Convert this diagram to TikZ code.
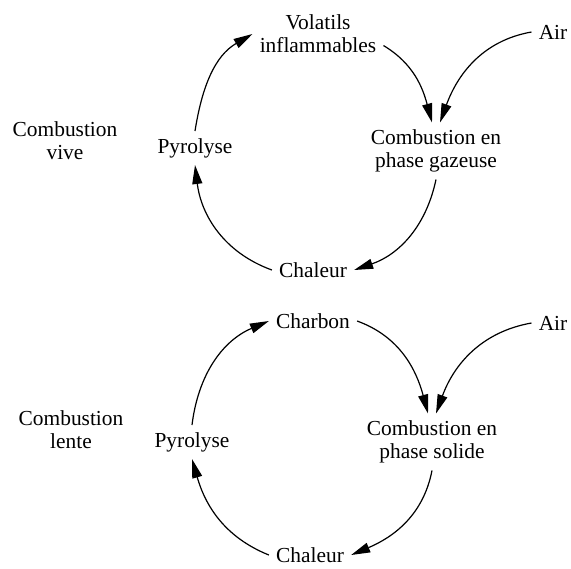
\documentclass[tikz,border=0pt]{standalone}
\usepackage{fontspec}
\setmainfont{Liberation Serif}
\usetikzlibrary{arrows.meta}

\begin{document}
\begin{tikzpicture}[x=0.5pt,y=0.5pt,line width=0.6pt,
  font=\fontsize{10.7}{11.5}\selectfont,
  every node/.style={align=center},
  cyc/.style={-{Triangle[length=9.5pt,width=5pt]}}]

\useasboundingbox (0,0) rectangle (571,-568);

% combustion vive
\node (vive)  at (65,-141)  {Combustion\\vive};
\node (pyrA)  at (195,-148) {Pyrolyse};
\node (volA)  at (318,-34)  {Volatils\\inflammables};
\node (airA)  at (553,-32)  {Air};
\node (combA) at (436,-151) {Combustion en\\phase gazeuse};
\node (chalA) at (313,-270) {Chaleur};

\draw[cyc] (pyrA.north) to[out=81,in=210] (volA.west);
\draw[cyc] (volA.-10) to[out=-31,in=105] ([xshift=-2pt]combA.north);
\draw[cyc] (airA.west) to[out=190,in=70] ([xshift=2pt]combA.north);
\draw[cyc] (combA.south) to[out=-102,in=19] (chalA.east);
\draw[cyc] (chalA.west) to[out=160,in=277] (pyrA.south);

% combustion lente
\node (lente) at (71,-430)  {Combustion\\lente};
\node (pyrB)  at (192,-442) {Pyrolyse};
\node (charB) at (313,-321) {Charbon};
\node (airB)  at (553,-323) {Air};
\node (combB) at (432,-442) {Combustion en\\phase solide};
\node (chalB) at (310,-555) {Chaleur};

\draw[cyc] (pyrB.north) to[out=83,in=203] (charB.west);
\draw[cyc] (charB.east) to[out=-20,in=105] ([xshift=-2pt]combB.north);
\draw[cyc] (airB.west) to[out=190,in=70] ([xshift=2pt]combB.north);
\draw[cyc] (combB.south) to[out=-101,in=23] (chalB.east);
\draw[cyc] (chalB.west) to[out=158,in=286] (pyrB.south);
\end{tikzpicture}
\end{document}
